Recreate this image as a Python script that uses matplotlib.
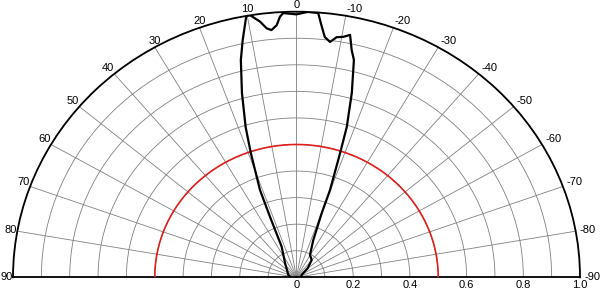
import numpy as np
import matplotlib

matplotlib.use("Agg")
import matplotlib.pyplot as plt

plt.rcParams.update({
    "font.family": ["Liberation Sans", "DejaVu Sans"],
    "font.size": 8,
})

# beam pattern (angle in degrees, normalised amplitude)
beam_deg = [90, 73, 37, 24.4, 22.3, 21.4, 19.0, 17.6, 15.5, 13.5, 12.0, 10.2, 9.4,
            7.6, 6.4, 5.4, 4.2, 3.4, 2.7, 0.0, -1.4, -2.3, -4.4, -5.4, -6.3, -7.6,
            -8.9, -10.3, -11.7, -12.8, -13.9, -15.7, -17.4, -18.2, -19.8, -20.2,
            -22.9, -29.5, -39.5, -48.8, -64.6, -90]
beam_amp = [0.02, 0.03, 0.067, 0.127, 0.247, 0.353, 0.495, 0.593, 0.720, 0.841, 0.913,
            1.0, 1.0, 0.971, 0.943, 0.935, 0.952, 0.983, 0.996, 0.99, 0.996, 1.0,
            0.998, 0.948, 0.910, 0.894, 0.915, 0.920, 0.932, 0.878, 0.843, 0.721,
            0.593, 0.4925, 0.349, 0.258, 0.152, 0.0965, 0.0843, 0.053, 0.020, 0.015]

# half-power reference circle
ref_level = 0.5

theta_ticks = list(range(-90, 91, 10))
theta_labels = [str(t) for t in theta_ticks]
r_ticks = [round(0.1 * i, 1) for i in range(11)]
r_labels = ["0" if v == 0 else (f"{v:.1f}" if i % 2 == 0 else "") for i, v in enumerate(r_ticks)]

W, H = 600, 289
cx, cy = 296.5, 277.3     # pixel centre of the half disc (from top-left)
rx, ry = 283.5, 265.6     # pixel radii (picture is slightly squashed)

fig = plt.figure(figsize=(W / 100, H / 100), dpi=100)
ax_w = 2 * rx
ax_h = 2 * ry
ax_left = cx - rx
ax_bottom = (H - cy) - 0.25 * ax_h
ax = fig.add_axes([ax_left / W, ax_bottom / H, ax_w / W, ax_h / H], projection="polar")
ax.set_theta_zero_location("N")
ax.set_theta_direction(1)
ax.set_thetamin(-90)
ax.set_thetamax(90)
ax.set_ylim(0, 1)
ax.set_aspect("auto")

# angle labels are placed by hand so they sit on the rim like the original
ax.set_thetagrids(theta_ticks, [""] * len(theta_ticks))
ax.set_yticks(r_ticks)
ax.set_yticklabels(r_labels)
ax.grid(True, color="#808080", lw=0.6)
ax.tick_params(axis="y", length=0, pad=2)
ax.tick_params(axis="x", length=0)

for a, lab in zip(theta_ticks, theta_labels):
    s, c = np.sin(np.deg2rad(abs(a))), np.cos(np.deg2rad(a))
    if abs(a) <= 30:
        ha = "center" if a >= 0 else "left"
    else:
        ha = "right" if a > 0 else "left"
    if a > 30:
        ox = -0.5
    elif a < 0:
        ox = 3.0 * s
    else:
        ox = 0.0
    if abs(a) >= 80:
        va = "center"
        oy = 1.0 if abs(a) == 80 else 0.3
    else:
        va = "baseline"
        oy = 3.0 * c
    ax.annotate(lab, xy=(np.deg2rad(a), 1.0), xytext=(ox, oy), textcoords="offset points",
                ha=ha, va=va, annotation_clip=False)

th = np.deg2rad(np.linspace(-90, 90, 361))
ax.plot(th, np.full_like(th, ref_level), color="#e0201c", lw=1.2, zorder=3)
ax.plot(np.deg2rad(beam_deg), beam_amp, color="black", lw=1.6, zorder=4)

for name, sp in ax.spines.items():
    sp.set_color("black")
    sp.set_linewidth(1.3)

fig.savefig("out.png", dpi=100)
